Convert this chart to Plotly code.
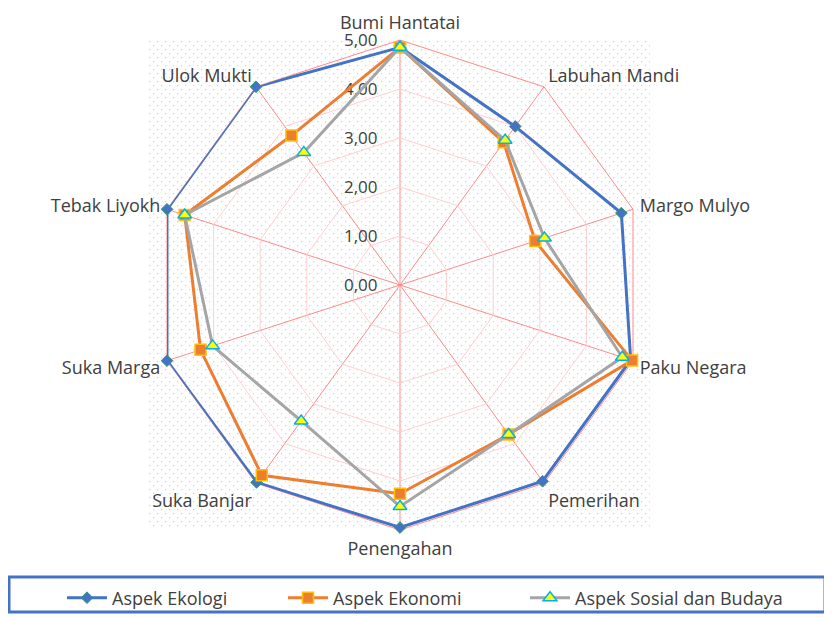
import base64
import plotly.graph_objects as go

# categories, clockwise from the top
desa = ["Bumi Hantatai", "Labuhan Mandi", "Margo Mulyo", "Paku Negara",
        "Pemerihan", "Penengahan", "Suka Banjar", "Suka Marga",
        "Tebak Liyokh", "Ulok Mukti"]

ekologi = [4.85, 4.00, 4.75, 4.95, 4.95, 4.95, 4.98, 5.00, 5.00, 5.00]
ekonomi = [4.85, 3.60, 2.90, 4.98, 3.77, 4.26, 4.80, 4.28, 4.62, 3.77]
sosial = [4.85, 3.65, 3.10, 4.77, 3.77, 4.52, 3.43, 4.02, 4.62, 3.34]

radial_ticks = [0, 1, 2, 3, 4, 5]

FONT = "'Open Sans', Lato, sans-serif"
TXT = "#404040"

# the page body has an 8px margin, so the figure is 8px smaller than the
# window and positions below are given in window pixels, then shifted
W, H = 824, 609
OFF = 8


def px(x):
    return (x - OFF) / W


def py(y):
    return 1 - (y - OFF) / H


def closed(vals):
    return list(vals) + [vals[0]]


series = [
    ("Aspek Ekologi", ekologi, "#4472C4",
     dict(symbol="diamond", size=9, color="#4472C4",
          line=dict(color="#2E9E6A", width=1))),
    ("Aspek Ekonomi", ekonomi, "#ED7D31",
     dict(symbol="square", size=11, color="#ED7D31",
          line=dict(color="#FFC000", width=1.5))),
    ("Aspek Sosial dan Budaya", sosial, "#A5A5A5",
     dict(symbol="triangle-up", size=12, color="#FFFF00",
          line=dict(color="#00B0F0", width=1.5))),
]

legend_keys = ["legend", "legend2", "legend3"]
legend_x = [62, 283, 525]

fig = go.Figure()
for (name, vals, col, mk), lk in zip(series, legend_keys):
    fig.add_trace(go.Scatterpolar(
        r=closed(vals),
        theta=closed(desa),
        name=name,
        mode="lines+markers",
        line=dict(color=col, width=3),
        marker=mk,
        legend=lk,
    ))

cx, cy, R = 400, 285, 245

# faint dotted plot-area fill, like the Excel pattern
bx0, by0, bx1, by1 = 148, 40, 650, 527
dots = ("<svg xmlns='http://www.w3.org/2000/svg' width='%d' height='%d'>"
        "<defs><pattern id='p' width='8' height='8' patternUnits='userSpaceOnUse'>"
        "<rect x='1' y='1' width='1.2' height='1.2' fill='#D0D0D0'/>"
        "<rect x='5' y='5' width='1.2' height='1.2' fill='#D0D0D0'/>"
        "</pattern></defs><rect width='100%%' height='100%%' fill='url(#p)'/></svg>"
        % (bx1 - bx0, by1 - by0))
dots_uri = "data:image/svg+xml;base64," + base64.b64encode(dots.encode()).decode()

legends = {}
for lk, lx in zip(legend_keys, legend_x):
    legends[lk] = dict(
        orientation="h", x=px(lx), xanchor="left", y=py(598),
        yanchor="middle", font=dict(size=18, color=TXT, family=FONT),
        itemwidth=40, bgcolor="rgba(0,0,0,0)",
    )

fig.update_layout(
    width=W, height=H,
    margin=dict(l=0, r=0, t=0, b=0),
    paper_bgcolor="white",
    separators=", ",
    font=dict(family=FONT, color=TXT, size=18),
    polar=dict(
        domain=dict(x=[px(cx - R), px(cx + R)],
                    y=[py(cy + R), py(cy - R)]),
        bgcolor="rgba(0,0,0,0)",
        gridshape="linear",
        angularaxis=dict(
            rotation=90, direction="clockwise",
            categoryarray=desa, categoryorder="array",
            showline=True, linecolor="#FF8A8A", linewidth=1,
            gridcolor="#FF8A8A", gridwidth=1, layer="below traces",
            ticks="outside", ticklen=3, tickcolor="rgba(0,0,0,0)",
            tickfont=dict(size=18, color=TXT, family=FONT),
        ),
        radialaxis=dict(
            range=[0, 5], tickvals=radial_ticks, tickformat=".2f",
            angle=90, tickangle=90, side="counterclockwise",
            showline=False, layer="below traces",
            ticks="outside", ticklen=16, tickcolor="rgba(0,0,0,0)",
            gridcolor="#FFD0D0", gridwidth=1,
            tickfont=dict(size=17, color=TXT, family=FONT),
        ),
    ),
    showlegend=True,
    images=[dict(source=dots_uri, xref="paper", yref="paper",
                 x=px(bx0), y=py(by0), sizex=(bx1 - bx0) / W,
                 sizey=(by1 - by0) / H, xanchor="left", yanchor="top",
                 sizing="stretch", layer="below")],
    shapes=[dict(type="rect", xref="paper", yref="paper",
                 x0=px(9), x1=px(825), y0=py(612), y1=py(577),
                 line=dict(color="#4472C4", width=3))],
    **legends,
)

fig.write_html("out.html")
